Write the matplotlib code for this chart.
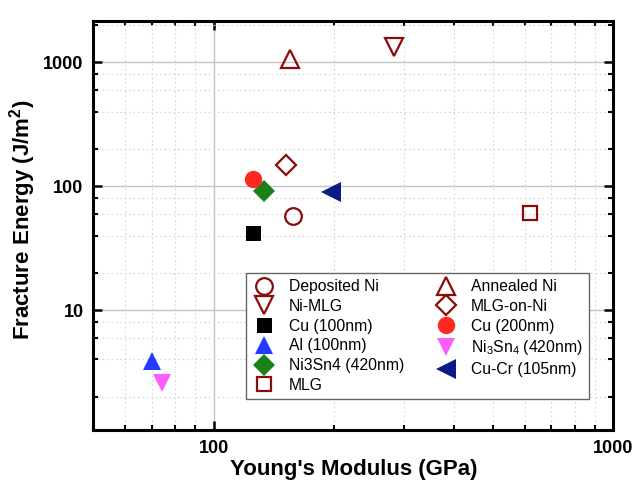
import matplotlib
matplotlib.use("Agg")
import matplotlib.pyplot as plt
from matplotlib.ticker import LogLocator, NullFormatter, FixedLocator, FixedFormatter

plt.rcParams['font.family'] = ['Liberation Sans', 'DejaVu Sans']
plt.rcParams['mathtext.fontset'] = 'custom'
plt.rcParams['mathtext.rm'] = 'Liberation Sans'
plt.rcParams['mathtext.bf'] = 'Liberation Sans:bold'
plt.rcParams['mathtext.default'] = 'regular'

# Young's modulus (GPa) and fracture energy (J/m^2) per material
labels = ["Deposited Ni", "Ni-MLG", "Cu (100nm)", "Al (100nm)", "Ni3Sn4 (420nm)", "MLG",
          "Annealed Ni", "MLG-on-Ni", "Cu (200nm)", "Ni$_3$Sn$_4$ (420nm)", "Cu-Cr (105nm)"]
modulus = [158, 283, 125.6, 70.3, 133.4, 620, 155.7, 151.4, 125.4, 74.1, 196.5]
energy = [58, 1320, 42, 3.9, 92, 61, 1063, 149.5, 115, 2.6, 89.5]

markers = ["o", "v", "s", "^", "D", "s", "^", "D", "o", "v", "<"]
dark_red = "#8b0a0a"
faces = ["none", "none", "black", "#1f3cff", "#1a8018", "none",
         "none", "none", "#ff2a1f", "#ff5cff", "#0a1a88"]
edges = [dark_red, dark_red, "black", "#1f3cff", "#1a8018", dark_red,
         dark_red, dark_red, "#ff2a1f", "#ff5cff", "#0a1a88"]
sizes = [12, 13.5, 10.8, 13.5, 10.8, 10.5, 13.5, 10.5, 12.5, 13.5, 14]

fig = plt.figure(figsize=(6.33, 4.94), dpi=100)
ax = fig.add_axes([0.1474, 0.1296, 0.8215, 0.8279])

for i in range(len(labels)):
    filled = faces[i] != "none"
    ax.plot(modulus[i], energy[i], linestyle="none", marker=markers[i],
            markersize=sizes[i], markerfacecolor=faces[i], markeredgecolor=edges[i],
            markeredgewidth=0 if filled else 1.6, label=labels[i], zorder=3)

ax.set_xscale("log")
ax.set_yscale("log")
ax.set_xlim(50, 1000)
ax.set_ylim(1.08, 2150)

ax.xaxis.set_major_locator(FixedLocator([100, 1000]))
ax.xaxis.set_major_formatter(FixedFormatter(["100", "1000"]))
ax.xaxis.set_minor_locator(LogLocator(base=10, subs=range(2, 10)))
ax.xaxis.set_minor_formatter(NullFormatter())
ax.yaxis.set_major_locator(FixedLocator([10, 100, 1000]))
ax.yaxis.set_major_formatter(FixedFormatter(["10", "100", "1000"]))
ax.yaxis.set_minor_locator(LogLocator(base=10, subs=(2, 4, 6, 8)))
ax.yaxis.set_minor_formatter(NullFormatter())

ax.grid(True, which="major", color="#c4c4c4", linewidth=1.0, linestyle="-", zorder=0)
ax.grid(True, which="minor", color="#d6d6d6", linewidth=0.8, linestyle=(0, (1.5, 2.5)), zorder=0)
ax.set_axisbelow(True)

for sp in ax.spines.values():
    sp.set_linewidth(2.2)
ax.tick_params(which="both", direction="in", top=True, right=True)
ax.tick_params(which="major", length=6.5, width=1.8, labelsize=13, pad=7)
ax.tick_params(which="minor", length=3.6, width=1.5)
for lab in ax.get_xticklabels() + ax.get_yticklabels():
    lab.set_fontweight("bold")

ax.set_xlabel("Young's Modulus (GPa)", fontsize=16, fontweight="bold")
ax.set_ylabel("Fracture Energy (J/m$^2$)", fontsize=16, fontweight="bold")
ax.xaxis.set_label_coords(0.5, -0.07)
ax.yaxis.set_label_coords(-0.106, 0.513)

leg = ax.legend(loc="upper left", bbox_to_anchor=(0.2937, 0.0709, 0.659, 0.313),
                mode="expand", ncol=2, fontsize=11.3, frameon=True, fancybox=False,
                borderpad=0.4, borderaxespad=0, labelspacing=0.3, handlelength=1.5,
                handletextpad=0.85, columnspacing=1.0, framealpha=1.0)
leg.get_frame().set_edgecolor("#666666")
leg.get_frame().set_linewidth(1.0)

fig.savefig("out.png", dpi=100)
